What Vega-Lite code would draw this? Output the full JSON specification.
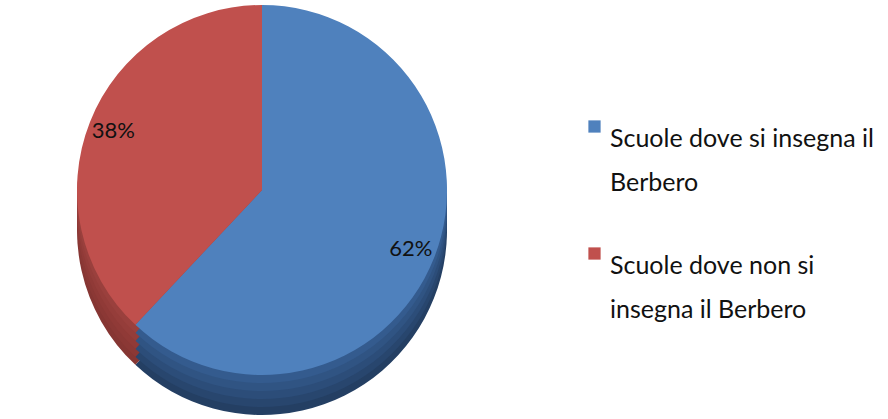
{
"$schema":"https://vega.github.io/schema/vega-lite/v6.json",
"width":524,"height":380,"autosize":{"type":"none"},"padding":{"left":0,"top":0,"right":364,"bottom":39},
"background":"white",
"config":{"view":{"stroke":null}},
"data":{"values":[
{"cat":"Scuole dove si  insegna il|Berbero","value":62,"order":1,"label":"62%"},
{"cat":"Scuole dove  non si|insegna il Berbero","value":38,"order":2,"label":"38%"}
]},
"encoding":{"theta":{"field":"value","type":"quantitative","stack":true},"order":{"field":"order","type":"quantitative"}},
"layer":[
{"mark":{"type":"arc","outerRadius":185,"yOffset":40},"encoding":{"color":{"condition":{"test":"datum.order === 1","value":"#243f63"},"value":"#863633"}}},
{"mark":{"type":"arc","outerRadius":185,"yOffset":32},"encoding":{"color":{"condition":{"test":"datum.order === 1","value":"#28466e"},"value":"#8b3835"}}},
{"mark":{"type":"arc","outerRadius":185,"yOffset":24},"encoding":{"color":{"condition":{"test":"datum.order === 1","value":"#2c4d79"},"value":"#903a37"}}},
{"mark":{"type":"arc","outerRadius":185,"yOffset":16},"encoding":{"color":{"condition":{"test":"datum.order === 1","value":"#305483"},"value":"#953d3a"}}},
{"mark":{"type":"arc","outerRadius":185,"yOffset":8},"encoding":{"color":{"condition":{"test":"datum.order === 1","value":"#345b8e"},"value":"#9a403d"}}},
{"mark":{"type":"arc","outerRadius":185},"encoding":{"color":{"field":"cat","type":"nominal",
 "scale":{"domain":["Scuole dove si  insegna il|Berbero","Scuole dove  non si|insegna il Berbero"],"range":["#4F81BD","#C0504D"]},
 "legend":{"orient":"none","legendX":582,"legendY":114,"title":null,"symbolType":"square","symbolSize":150,"symbolStrokeWidth":0,
  "labelFont":"Lato","labelFontSize":25,"labelColor":"#111111","labelLimit":400,"labelOffset":3,"rowPadding":45,
  "labelExpr":"split(datum.label,'|')","labelBaseline":"top",
  "encode":{"labels":{"update":{"lineHeight":{"value":44}}}}}}}},
{"mark":{"type":"text","radius":160,"font":"Lato","fontSize":22,"color":"#111111"},"encoding":{"text":{"field":"label"}}}
]}
